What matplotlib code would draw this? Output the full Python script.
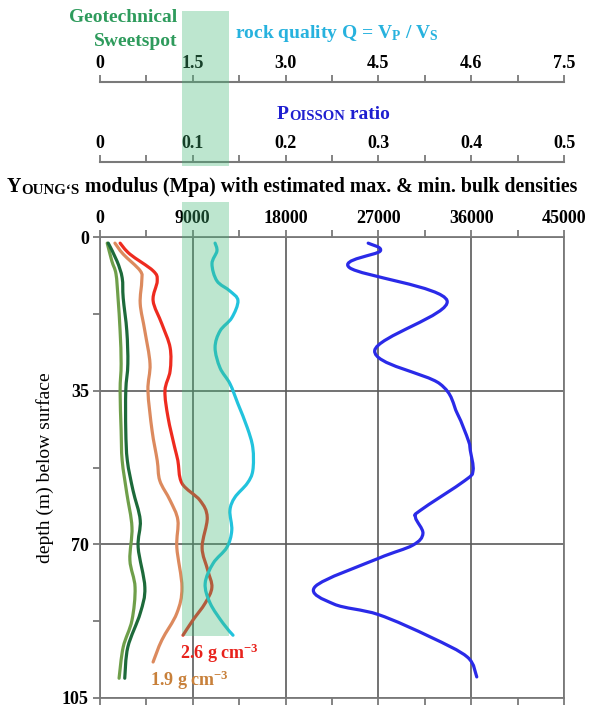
import matplotlib.pyplot as plt
from matplotlib.patches import Rectangle, PathPatch
from matplotlib.path import Path
from matplotlib.ticker import FixedLocator, FixedFormatter, MultipleLocator
from matplotlib.transforms import blended_transform_factory

plt.rcParams['font.family'] = ['Liberation Serif', 'DejaVu Serif']
plt.rcParams['font.weight'] = 'bold'
plt.rcParams['mathtext.fontset'] = 'custom'
plt.rcParams['mathtext.rm'] = 'Liberation Serif:bold'
plt.rcParams['mathtext.it'] = 'Liberation Serif:bold'
plt.rcParams['mathtext.bf'] = 'Liberation Serif:bold'

# Young's modulus curves (MPa) vs depth (m)
depth_lg = [1.4, 5.5, 8.4, 13.9, 21.4, 28.9, 35.0, 44.1, 50.9, 58.4, 66.1,
            73.6, 79.8, 87.3, 93.4, 100.5]
young_lg = [700, 1150, 1550, 1750, 1950, 2050, 1950, 2050, 2150, 2600, 3100,
            2900, 3400, 3100, 2250, 1850]

depth_dg = [1.4, 5.5, 9.3, 13.9, 21.4, 28.9, 35.0, 44.1, 50.9, 57.7, 64.5,
            70.7, 79.8, 85.7, 93.4, 100.5]
young_dg = [800, 1650, 2150, 2250, 2600, 2700, 2500, 2500, 2650, 3200, 3900,
            3700, 4350, 3900, 2700, 2400]

depth_19 = [1.4, 3.9, 7.7, 10.0, 15.2, 21.4, 28.9, 35.0, 44.1, 50.9, 55.5,
            60.0, 64.5, 70.7, 79.8, 85.7, 91.8, 96.8]
young_19 = [1450, 2250, 3900, 4050, 3900, 4350, 4850, 4650, 5050, 5550, 5800,
            6800, 7550, 7450, 7950, 7450, 6000, 5150]

depth_26 = [1.4, 3.9, 7.7, 10.0, 14.5, 19.8, 25.2, 30.5, 35.0, 41.1, 48.0,
            50.9, 56.1, 60.0, 63.9, 70.7, 75.9, 79.8, 83.4, 87.3, 90.7]
young_26 = [1950, 2900, 5150, 5550, 5150, 6000, 6800, 6800, 6300, 6600, 7250,
            7550, 7950, 9700, 10400, 9900, 10450, 10850, 10200, 9000, 8050]

# rock quality Q = Vp / Vs
depth_q = [1.4, 3.2, 6.1, 10.0, 12.3, 14.5, 18.4, 21.4, 25.2, 29.8, 33.4,
           38.0, 43.4, 48.0, 53.2, 56.1, 59.3, 62.3, 66.8, 70.7, 74.3, 78.9,
           83.4, 88.0, 90.7]
q_vals = [1.86, 1.89, 1.81, 1.89, 2.10, 2.23, 2.13, 1.94, 1.86, 1.94, 2.10,
          2.23, 2.38, 2.47, 2.47, 2.38, 2.18, 2.10, 2.13, 2.05, 1.83, 1.70,
          1.78, 1.99, 2.15]

# Poisson ratio
depth_nu = [1.4, 3.2, 7.0, 14.5, 25.9, 33.4, 40.2, 46.4, 48.6, 53.2, 55.5,
            62.3, 63.9, 67.5, 70.2, 73.2, 79.6, 83.6, 86.0, 91.1, 95.7,
            100.2]
nu_vals = [0.289, 0.302, 0.269, 0.374, 0.296, 0.366, 0.385, 0.397, 0.399,
           0.402, 0.393, 0.345, 0.340, 0.348, 0.337, 0.300, 0.232,
           0.252, 0.300, 0.356, 0.396, 0.406]

q_ticks = [0, 1.5, 3.0, 4.5, 6.0, 7.5]
q_labels = ['0', '1.5', '3.0', '4.5', '4.6', '7.5']
nu_ticks = [0, 0.1, 0.2, 0.3, 0.4, 0.5]
nu_labels = ['0', '0.1', '0.2', '0.3', '0.4', '0.5']
young_ticks = [0, 9000, 18000, 27000, 36000, 45000]
depth_ticks = [0, 35, 70, 105]
sweet_spot = (7950, 12500)  # MPa

W, H = 597, 710
fig = plt.figure(figsize=(W / 100, H / 100), dpi=100)


def fx(px):
    return px / W


def fy(py):
    return 1 - py / H


def smooth_curve(a, xs, ys, color):
    # smooth bezier path through the read points
    pts = list(zip(xs, ys))
    n = len(pts)
    verts = [pts[0]]
    codes = [Path.MOVETO]
    for i in range(n - 1):
        p0 = pts[max(i - 1, 0)]
        p1 = pts[i]
        p2 = pts[i + 1]
        p3 = pts[min(i + 2, n - 1)]
        c1 = (p1[0] + (p2[0] - p0[0]) / 6, p1[1] + (p2[1] - p0[1]) / 6)
        c2 = (p2[0] - (p3[0] - p1[0]) / 6, p2[1] - (p3[1] - p1[1]) / 6)
        verts += [c1, c2, p2]
        codes += [Path.CURVE4] * 3
    a.add_patch(PathPatch(Path(verts, codes), fill=False, edgecolor=color,
                          linewidth=2.3, capstyle='round', joinstyle='round',
                          zorder=3))


L, R = 100, 564
spine_c = '#7a7a7a'
ax = fig.add_axes([fx(L), fy(698), fx(R - L), (698 - 237) / H])
ax.set_xlim(0, 45000)
ax.set_ylim(105, 0)

# twin axes for the Q and Poisson curves (same depth axis)
axq = ax.twiny()
axq.set_xlim(0, 7.5)
axq.axis('off')
axn = ax.twiny()
axn.set_xlim(0, 0.5)
axn.axis('off')

for s in ax.spines.values():
    s.set_color(spine_c)
    s.set_linewidth(1.3)
ax.xaxis.set_major_locator(FixedLocator(young_ticks))
ax.xaxis.set_minor_locator(MultipleLocator(4500))
ax.yaxis.set_major_locator(FixedLocator(depth_ticks))
ax.yaxis.set_minor_locator(MultipleLocator(17.5))
ax.tick_params(axis='x', which='both', top=True, bottom=True, labeltop=True,
               labelbottom=False, direction='out', length=5, width=1.3,
               color=spine_c, labelsize=13, pad=2.5)
ax.tick_params(axis='y', which='both', left=True, right=False,
               direction='out', length=5, width=1.3, color=spine_c,
               labelsize=13, pad=3)
ax.grid(True, which='major', color='#5a5a5a', linewidth=1.2, zorder=0)
ax.set_ylabel('depth (m) below surface', fontsize=14, labelpad=6)

smooth_curve(ax, young_lg, depth_lg, '#6f9f4a')
smooth_curve(ax, young_dg, depth_dg, '#1d6a3a')
smooth_curve(ax, young_19, depth_19, '#dc8a5e')
smooth_curve(ax, young_26, depth_26, '#ee2b1f')
smooth_curve(axq, q_vals, depth_q, '#22c3dd')
smooth_curve(axn, nu_vals, depth_nu, '#2a2ae8')

ax.text(7750, 94.8, r'2.6 g cm$^{-3}$', color='#e8221c', fontsize=13,
        va='center', ha='left')
ax.text(4850, 100.9, r'1.9 g cm$^{-3}$', color='#c8803a', fontsize=13,
        va='center', ha='left')


def scale_axis(py, lim, ticks, labels, minor):
    a = fig.add_axes([fx(L), fy(py), fx(R - L), 1e-4])
    a.set_xlim(*lim)
    a.set_yticks([])
    for name, s in a.spines.items():
        s.set_visible(name == 'top')
        s.set_color(spine_c)
        s.set_linewidth(1.5)
    a.xaxis.set_major_locator(FixedLocator(ticks))
    a.xaxis.set_major_formatter(FixedFormatter(labels))
    a.xaxis.set_minor_locator(MultipleLocator(minor))
    a.tick_params(axis='x', which='both', top=True, bottom=False,
                  labeltop=True, labelbottom=False, direction='out',
                  length=5, width=1.3, color=spine_c, labelsize=13, pad=2.5)
    a.patch.set_visible(False)
    return a


scale_axis(82, (0, 7.5), q_ticks, q_labels, 0.75)
scale_axis(162, (0, 0.5), nu_ticks, nu_labels, 0.05)

green = '#2e9b5c'
fig.text(fx(177), fy(17), 'Geotechnical', color=green, fontsize=14,
         ha='right', va='center')
fig.text(fx(177), fy(41), 'Sweetspot', color=green, fontsize=14,
         ha='right', va='center')
fig.text(fx(337), fy(34), r'rock quality Q = V$_\mathrm{P}$ / V$_\mathrm{S}$',
         color='#27b2de', fontsize=14, ha='center', va='center')


def small_caps(x, y, parts, color):
    prev = fig.text(x, y, parts[0][0], fontsize=parts[0][1], color=color,
                    va='baseline', ha='left')
    for txt, size in parts[1:]:
        prev = ax.annotate(txt, xy=(1, 0), xycoords=prev, fontsize=size,
                           color=color, va='bottom', ha='left',
                           annotation_clip=False)


small_caps(fx(277), fy(119), [('P', 14), ('OISSON', 10.5), (' ratio', 14)],
           '#1f1fd0')
small_caps(fx(7), fy(192), [('Y', 14.3), ('OUNG\u2018S', 10.8),
                            (' modulus (Mpa) with estimated max. & min. bulk densities', 14.3)],
           'black')

# sweetspot band drawn on top, semi-transparent
tr = blended_transform_factory(ax.transData, fig.transFigure)
for top, bot in [(11, 166), (202, 636)]:
    fig.add_artist(Rectangle((sweet_spot[0], fy(bot)),
                             sweet_spot[1] - sweet_spot[0],
                             fy(top) - fy(bot), transform=tr,
                             facecolor='#42b876', alpha=0.35,
                             edgecolor='none', zorder=5))

fig.savefig('out.png', dpi=100)
